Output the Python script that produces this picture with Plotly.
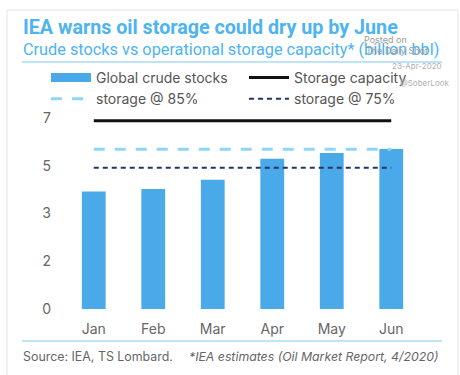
import plotly.graph_objects as go

months = ["Jan", "Feb", "Mar", "Apr", "May", "Jun"]
crude_stocks = [4.30, 4.39, 4.73, 5.50, 5.71, 5.86]
storage_capacity = [6.89, 6.89, 6.89, 6.89, 6.89, 6.89]
storage_85 = [5.85, 5.85, 5.85, 5.85, 5.85, 5.85]
storage_75 = [5.17, 5.17, 5.17, 5.17, 5.17, 5.17]
ytick_vals = [0, 1.75, 3.5, 5.25, 7]
ytick_text = ["0", "2", "3", "5", "7"]

W, H = 460, 375
ML, MR, MT, MB = 64, 39, 111, 60
PW, PH = W - ML - MR, H - MT - MB
FONT = "Inter, Roboto, Arial, sans-serif"
TFONT = "Roboto, Inter, Arial, sans-serif"


def px(x):
    return (x - ML) / PW


def py(y):
    return (H - MB - y) / PH


BAR = "#4aa9e9"
TITLE = "#4db4f0"
LIGHT = "#8fd5f6"
NAVY = "#26336b"
GRAY = "#555555"

fig = go.Figure()
fig.add_trace(go.Bar(x=months, y=crude_stocks, marker=dict(color=BAR, line=dict(width=0)),
                     width=0.4, showlegend=False))
fig.add_trace(go.Scatter(x=months, y=storage_capacity, mode="lines",
                         line=dict(color="#111111", width=3), showlegend=False))
fig.add_trace(go.Scatter(x=months, y=storage_85, mode="lines",
                         line=dict(color=LIGHT, width=3, dash="11px,10px"), showlegend=False))
fig.add_trace(go.Scatter(x=months, y=storage_75, mode="lines",
                         line=dict(color=NAVY, width=2, dash="5px,4px"), showlegend=False))

# legend entries
fig.add_trace(go.Scatter(x=[None], y=[None], mode="lines", name="Global crude stocks",
                         line=dict(color=BAR, width=9), legend="legend"))
fig.add_trace(go.Scatter(x=[None], y=[None], mode="lines", name="storage @ 85%",
                         line=dict(color=LIGHT, width=3, dash="11px,10px"), legend="legend"))
fig.add_trace(go.Scatter(x=[None], y=[None], mode="lines", name="Storage capacity",
                         line=dict(color="#111111", width=3), legend="legend2"))
fig.add_trace(go.Scatter(x=[None], y=[None], mode="lines", name="storage @ 75%",
                         line=dict(color=NAVY, width=2, dash="5px,4px"), legend="legend2"))

legend_common = dict(font=dict(family=FONT, size=14, color=GRAY), bgcolor="rgba(0,0,0,0)",
                     yanchor="top", xanchor="left", tracegroupgap=0, itemwidth=40,
                     traceorder="normal")

annotations = [
    dict(text="<b>IEA warns oil storage could dry up by June</b>", x=px(21), y=py(28),
         font=dict(family=TFONT, size=19.7, color=TITLE)),
    dict(text="Crude stocks vs operational storage capacity* (billion bbl)", x=px(21), y=py(50),
         font=dict(family=TFONT, size=16.3, color=TITLE)),
    dict(text="Source: IEA, TS Lombard.", x=px(21), y=py(356),
         font=dict(family=FONT, size=12.4, color="#666666")),
    dict(text="<i>*IEA estimates (Oil Market Report, 4/2020)</i>", x=px(187), y=py(356),
         font=dict(family=FONT, size=12.3, color="#666666")),
    dict(text="Posted on", x=px(362), y=py(40), font=dict(family=FONT, size=9, color="#9a9a9a")),
    dict(text="The Daily Shot", x=px(364), y=py(51), font=dict(family=FONT, size=9, color="#9a9a9a")),
    dict(text="23-Apr-2020", x=px(390), y=py(66), font=dict(family=FONT, size=8, color="#b0b0b0")),
    dict(text="@SoberLook", x=px(398), y=py(83), font=dict(family=FONT, size=8, color="#b0b0b0")),
]
for a in annotations:
    a.update(xref="paper", yref="paper", xanchor="left", yanchor="middle", showarrow=False)

shapes = [
    dict(type="rect", xref="paper", yref="paper", x0=px(7), x1=px(458), y0=py(10), y1=py(385),
         line=dict(color="#e4e4e4", width=1)),
    dict(type="line", xref="paper", yref="paper", x0=px(22), x1=px(442), y0=py(62), y1=py(62),
         line=dict(color="#a6dcf7", width=1.5)),
    dict(type="line", xref="paper", yref="paper", x0=px(22), x1=px(442), y0=py(341), y1=py(341),
         line=dict(color="#a6dcf7", width=1.5)),
]

fig.update_layout(
    width=W, height=H, margin=dict(l=ML, r=MR, t=MT, b=MB),
    paper_bgcolor="white", plot_bgcolor="white",
    font=dict(family=FONT, color=GRAY),
    bargap=0.6,
    xaxis=dict(range=[-0.5, 5.5], showgrid=False, zeroline=False, showline=False, ticks="",
               ticklabelstandoff=4,
               tickfont=dict(family=FONT, size=14, color="#666666")),
    yaxis=dict(range=[-0.22, 7.25], tickvals=ytick_vals, ticktext=ytick_text, showgrid=False,
               zeroline=False, showline=False, ticks="", ticklabelstandoff=12,
               tickfont=dict(family=FONT, size=14, color="#666666")),
    legend=dict(x=px(46), y=py(62), **legend_common),
    legend2=dict(x=px(244), y=py(62), **legend_common),
    annotations=annotations, shapes=shapes,
)

fig.write_html("out.html", config={"displayModeBar": False},
               post_script="document.body.style.margin='0';")
